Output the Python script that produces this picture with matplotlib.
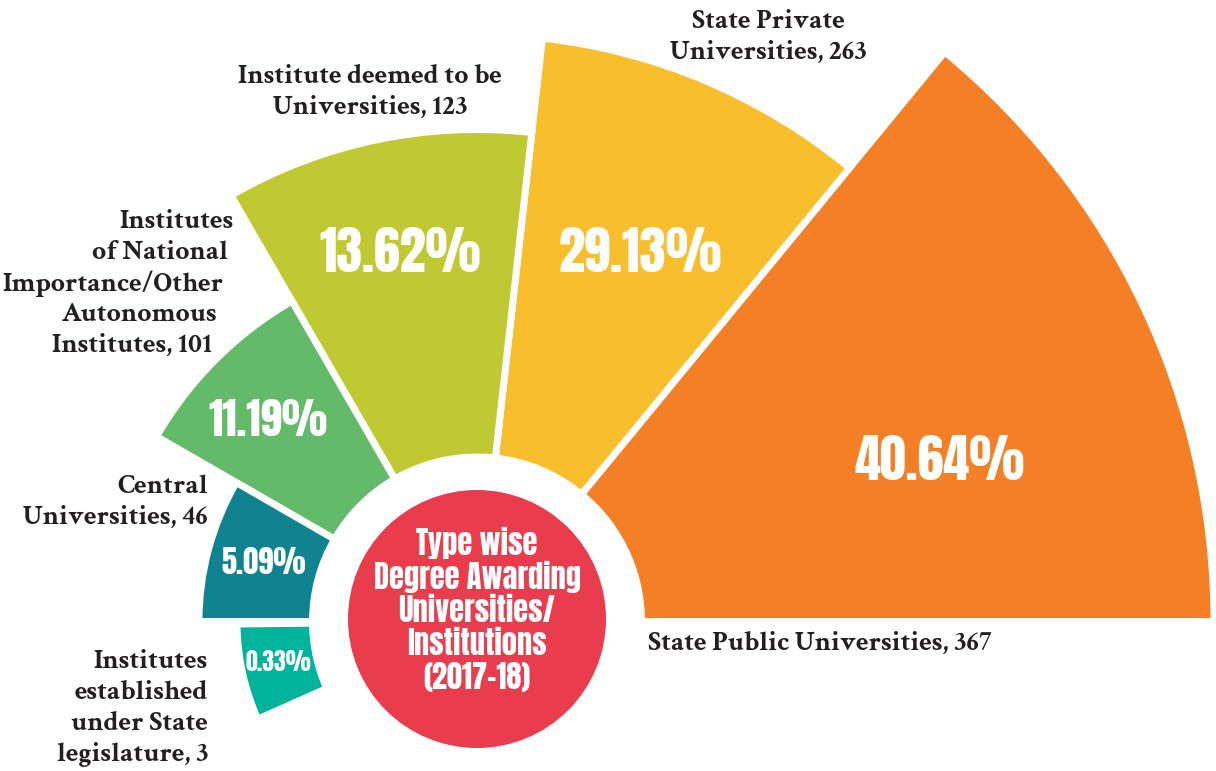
import matplotlib
matplotlib.use("Agg")
import matplotlib.pyplot as plt
from matplotlib.patches import Wedge, Circle

# --- data ------------------------------------------------------------------
categories = ["State Public Universities", "State Private Universities",
              "Institute deemed to be Universities",
              "Institutes of National Importance/Other Autonomous Institutes",
              "Central Universities",
              "Institutes established under State legislature"]
counts = [367, 263, 123, 101, 46, 3]
shares = [40.64, 29.13, 13.62, 11.19, 5.09, 0.33]
# petal length (px) and angular span (deg, ccw from the right) as drawn
petal_radius = [737, 587, 492, 370, 278, 240]
angle_start = [0.0, 50.6, 83.6, 120.0, 150.0, 180.6]
angle_end = [50.6, 83.6, 120.0, 150.0, 180.0, 204.0]
colors = ["#F47F24", "#F8BE2C", "#BFCA33", "#63BB6A", "#0F8390", "#00B49C"]

label_text = [
    f"State Public Universities, {counts[0]}",
    f"State Private\nUniversities, {counts[1]}",
    f"Institute deemed to be\nUniversities, {counts[2]}",
    f"Institutes\nof National\nImportance/Other\nAutonomous\nInstitutes, {counts[3]}",
    f"Central\nUniversities, {counts[4]}",
    f"Institutes\nestablished\nunder State\nlegislature, {counts[5]}",
]
centre_title = "Type wise\nDegree Awarding\nUniversities/\nInstitutions\n(2017-18)"

# --- layout ---------------------------------------------------------------
W, H = 1216, 771
cx, cy = 477, 621.5
r_inner = 164.5
gap_lw = 5.0

# (x, y of first line, ha, x shift per line)
label_pos = [(648, 644, "left", 0), (768, 22, "center", 0), (370, 77, "center", 0),
             (234, 222, "right", -5.4), (208, 487, "right", 0), (208, 662, "right", 0)]
line_step = 30.8
pct_pos = [(940, 461), (640, 253), (400, 253), (268, 420), (264, 562), (278, 662)]
pct_size = [37.5, 38, 37.5, 31, 22, 17]

serif = ["Crimson Text", "Liberation Serif", "DejaVu Serif"]
narrow = ["Anton", "DejaVu Sans"]
text_col = "#231F20"

fig = plt.figure(figsize=(W / 100, H / 100), dpi=100)
ax = fig.add_axes([0, 0, 1, 1])
ax.set_xlim(0, W)
ax.set_ylim(H, 0)
ax.axis("off")

# y axis runs downwards, so screen angle a is data angle -a
for r, a1, a2, col in zip(petal_radius, angle_start, angle_end, colors):
    ax.add_patch(Wedge((cx, cy), r, -a2, -a1, width=r - r_inner,
                       facecolor=col, edgecolor="white", linewidth=gap_lw))

ax.add_patch(Circle((477, 619), 129, facecolor="#E93C4C", edgecolor="none"))

for txt, (x, y, ha, dx) in zip(label_text, label_pos):
    for i, line in enumerate(txt.split("\n")):
        ax.text(x + i * dx, y + i * line_step, line, ha=ha, va="center",
                fontsize=20, fontweight="bold", family=serif, color=text_col)

for s, (x, y), fs in zip(shares, pct_pos, pct_size):
    ax.text(x, y, f"{s:.2f}%", ha="center", va="center", fontsize=fs,
            family=narrow, color="white")

for i, line in enumerate(centre_title.split("\n")):
    ax.text(477, 543 + i * 33.5, line, ha="center", va="center", fontsize=22,
            family=narrow, color="white")

fig.savefig("out.png", dpi=100)
